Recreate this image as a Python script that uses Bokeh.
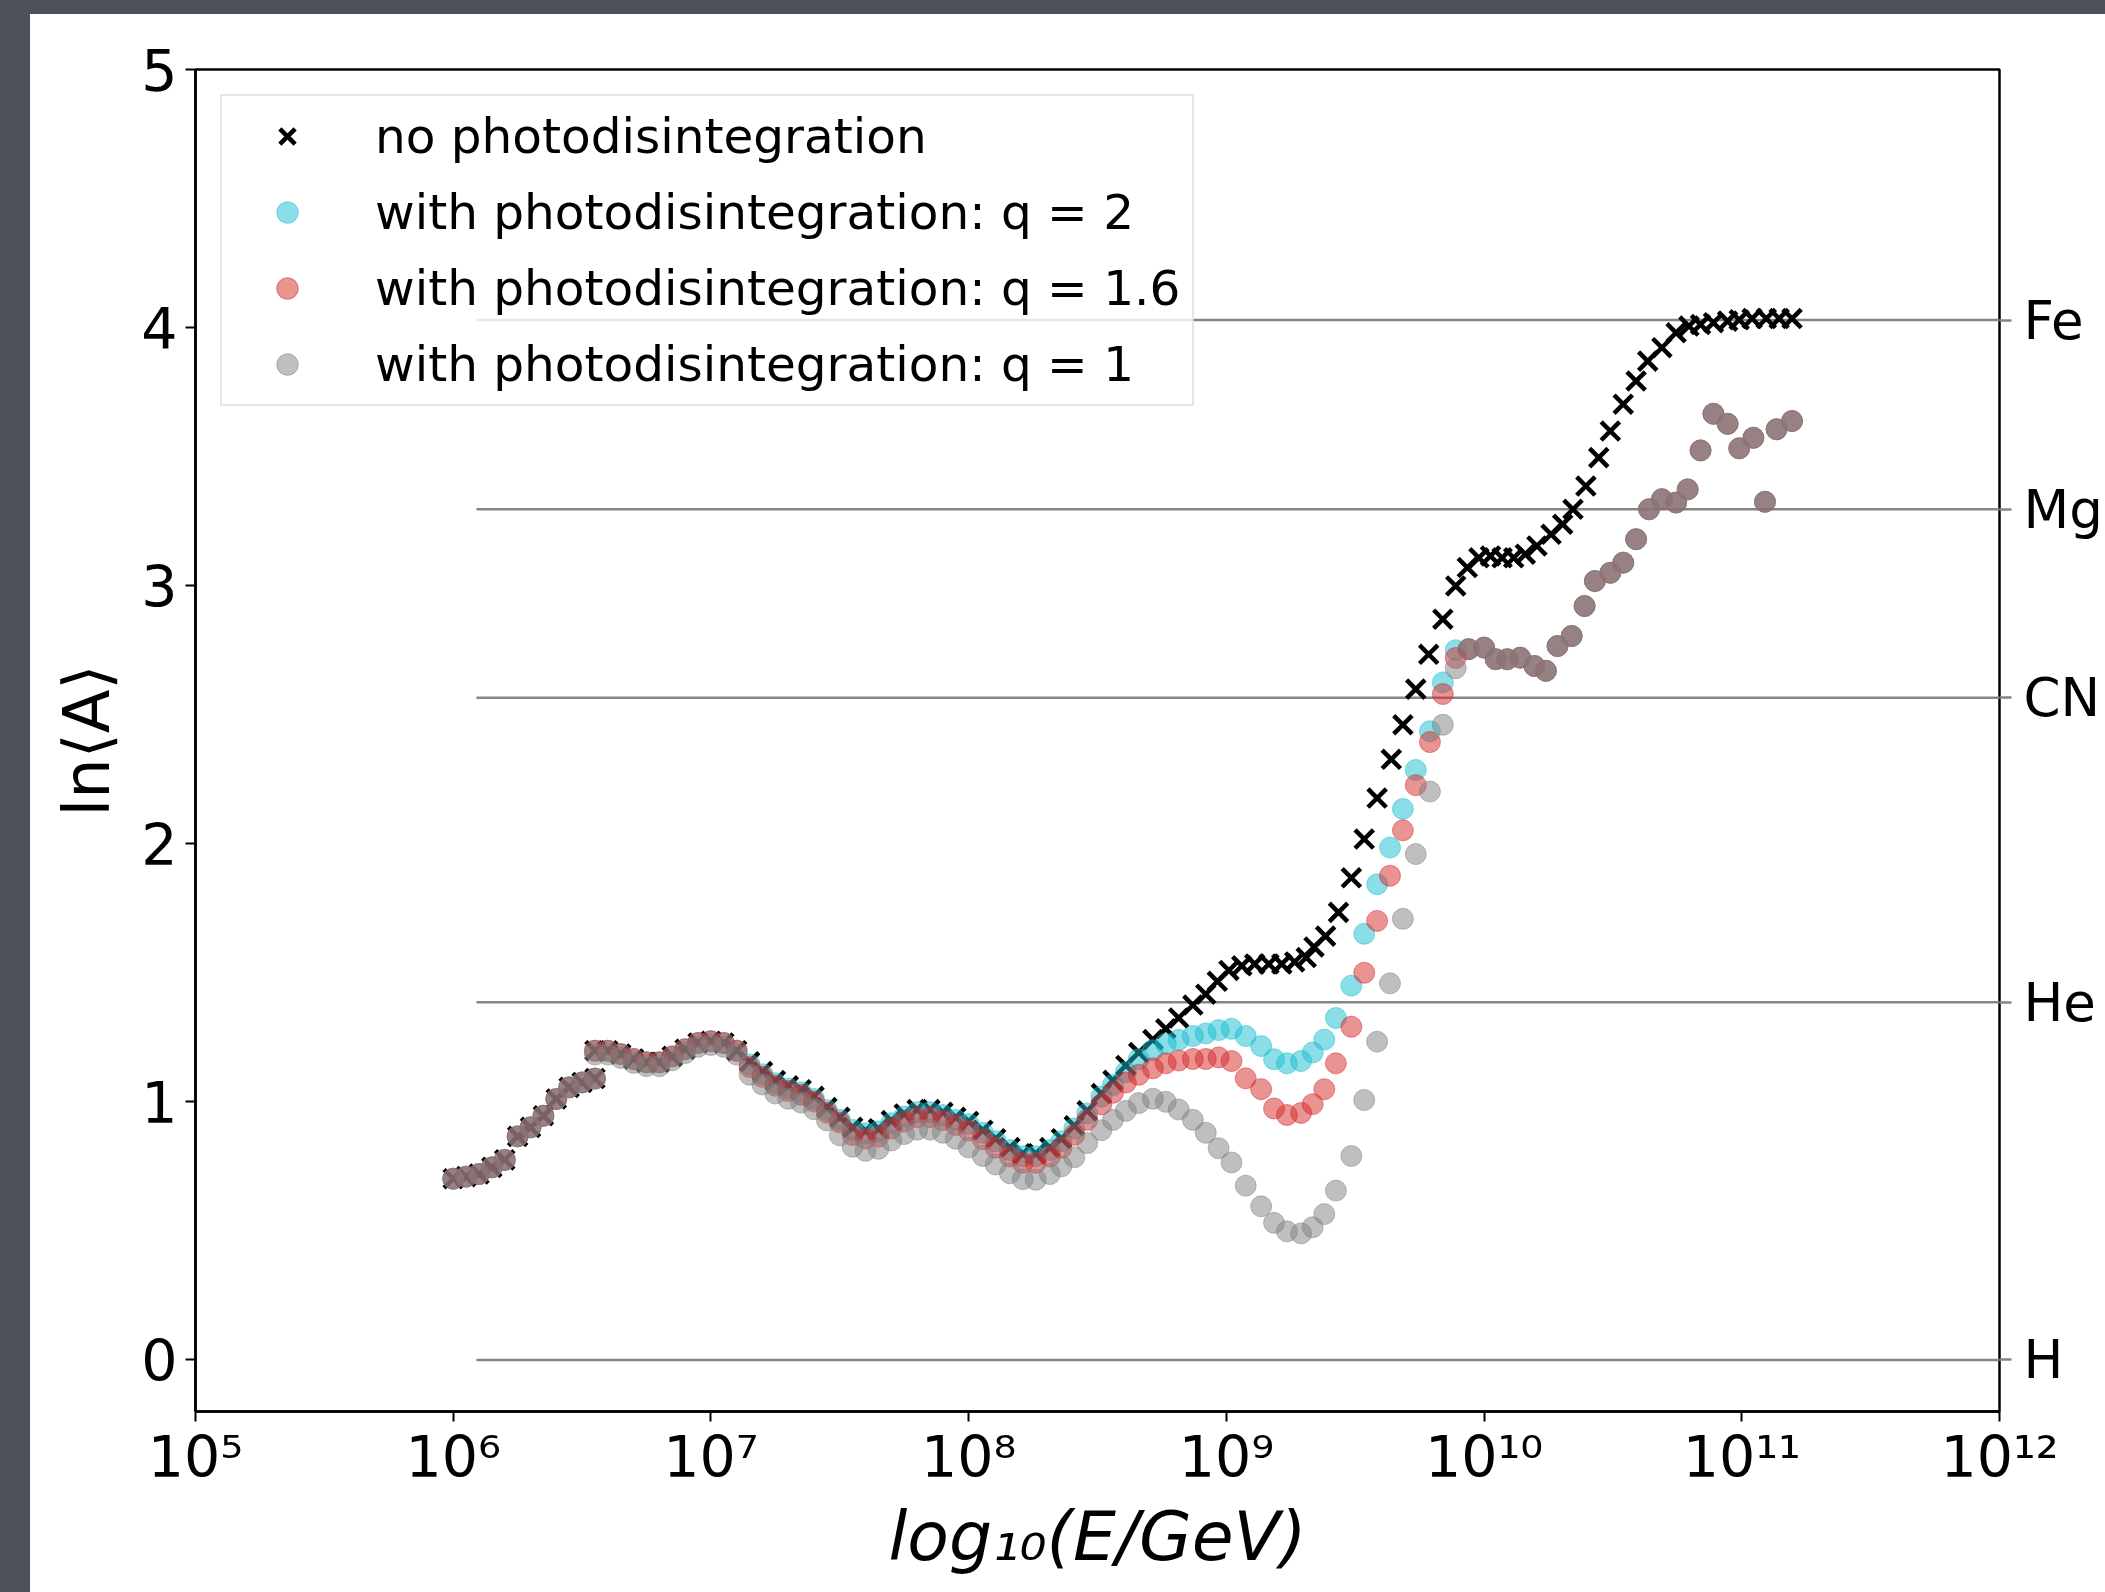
import numpy as np
from bokeh.plotting import figure
from bokeh.models import (LinearAxis, FixedTicker, CustomJSTickFormatter, Legend,
                          LegendItem, Range1d, Spacer)
from bokeh.layouts import column, row
from bokeh.embed import file_html
from bokeh.resources import INLINE

# ---------------- data ----------------
# no photodisintegration (black crosses)
logE_none = [6.00, 6.05, 6.10, 6.15, 6.20, 6.25, 6.30, 6.35, 6.40, 6.45, 6.50, 6.55,
             6.55, 6.60, 6.65, 6.70, 6.75, 6.80, 6.85, 6.90, 6.95, 7.00, 7.05, 7.10,
             7.15, 7.20, 7.25, 7.30, 7.35, 7.40, 7.45, 7.50, 7.55, 7.60, 7.65, 7.70,
             7.75, 7.80, 7.85, 7.90, 7.95,
             8.00, 8.055, 8.105, 8.16, 8.21, 8.26, 8.315, 8.36, 8.41, 8.46, 8.515, 8.56,
             8.61, 8.66, 8.715, 8.765, 8.815, 8.87, 8.92, 8.965, 9.01, 9.06, 9.11, 9.165,
             9.215, 9.265, 9.31, 9.34, 9.385, 9.435, 9.485, 9.535, 9.585, 9.64, 9.685,
             9.735, 9.785, 9.84, 9.89, 9.935, 9.98, 10.025, 10.07, 10.115, 10.16, 10.205,
             10.26, 10.305, 10.345, 10.395, 10.445, 10.49, 10.54, 10.59, 10.635, 10.69,
             10.745, 10.795, 10.84, 10.89, 10.945, 10.99, 11.04, 11.095, 11.145, 11.195]
lnA_none = [0.702, 0.710, 0.720, 0.746, 0.775, 0.866, 0.901, 0.946, 1.011, 1.056, 1.075, 1.09,
            1.198, 1.198, 1.185, 1.166, 1.153, 1.153, 1.176, 1.204, 1.228, 1.235, 1.228, 1.198,
            1.155, 1.117, 1.082, 1.062, 1.047, 1.021, 0.978, 0.940, 0.901, 0.888, 0.895, 0.927,
            0.953, 0.970, 0.970, 0.959, 0.940,
            0.924, 0.890, 0.857, 0.823, 0.799, 0.799, 0.823, 0.857, 0.907, 0.965, 1.032, 1.083,
            1.141, 1.191, 1.241, 1.283, 1.325, 1.375, 1.417, 1.467, 1.509, 1.527, 1.534, 1.534,
            1.534, 1.542, 1.559, 1.600, 1.642, 1.734, 1.868, 2.018, 2.177, 2.327, 2.461,
            2.599, 2.734, 2.870, 2.999, 3.070, 3.108, 3.115, 3.108, 3.108, 3.122, 3.154,
            3.199, 3.238, 3.296, 3.386, 3.496, 3.599, 3.703, 3.793, 3.870, 3.922,
            3.980, 4.006, 4.012, 4.019, 4.025, 4.030, 4.035, 4.035, 4.035, 4.035]

# energies of the photodisintegration runs below 10^9.9 GeV
logE_pd = [6.00, 6.05, 6.10, 6.15, 6.20, 6.25, 6.30, 6.35, 6.40, 6.45, 6.50, 6.55,
           6.55, 6.60, 6.65, 6.70, 6.75, 6.80, 6.85, 6.90, 6.95, 7.00, 7.05, 7.10,
           7.15, 7.20, 7.25, 7.30, 7.35, 7.40, 7.45, 7.50, 7.55, 7.60, 7.65, 7.70,
           7.75, 7.80, 7.85, 7.90, 7.95,
           8.00, 8.055, 8.105, 8.16, 8.21, 8.26, 8.315, 8.36, 8.41, 8.46, 8.515, 8.56,
           8.61, 8.66, 8.715, 8.765, 8.815, 8.87, 8.92, 8.97, 9.02, 9.075, 9.135, 9.185,
           9.235, 9.29, 9.335, 9.38, 9.425, 9.485, 9.535, 9.585, 9.635, 9.685, 9.735,
           9.79, 9.84, 9.89]
lnA_q2 = [0.702, 0.710, 0.720, 0.746, 0.775, 0.866, 0.901, 0.946, 1.011, 1.056, 1.075, 1.09,
          1.198, 1.198, 1.185, 1.166, 1.153, 1.153, 1.176, 1.204, 1.228, 1.235, 1.228, 1.198,
          1.145, 1.107, 1.072, 1.052, 1.037, 1.011, 0.968, 0.930, 0.891, 0.878, 0.885, 0.917,
          0.943, 0.960, 0.960, 0.949, 0.930,
          0.914, 0.880, 0.847, 0.813, 0.789, 0.789, 0.813, 0.847, 0.897, 0.955, 1.02, 1.065,
          1.115, 1.165, 1.20, 1.225, 1.24, 1.255, 1.265, 1.278, 1.283, 1.255, 1.216, 1.165,
          1.149, 1.158, 1.191, 1.241, 1.325, 1.45, 1.651, 1.843, 1.985, 2.135, 2.286,
          2.436, 2.625, 2.75]
lnA_q16 = [0.702, 0.710, 0.720, 0.746, 0.775, 0.866, 0.901, 0.946, 1.011, 1.056, 1.075, 1.09,
           1.198, 1.198, 1.185, 1.166, 1.153, 1.153, 1.176, 1.204, 1.228, 1.235, 1.228, 1.198,
           1.135, 1.097, 1.062, 1.042, 1.027, 1.001, 0.958, 0.920, 0.871, 0.858, 0.865, 0.897,
           0.923, 0.940, 0.940, 0.929, 0.910,
           0.889, 0.855, 0.822, 0.788, 0.764, 0.764, 0.788, 0.822, 0.872, 0.93, 0.99, 1.035,
           1.075, 1.105, 1.13, 1.149, 1.16, 1.166, 1.166, 1.172, 1.158, 1.091, 1.049, 0.974,
           0.949, 0.957, 0.991, 1.049, 1.149, 1.291, 1.50, 1.701, 1.876, 2.052, 2.227,
           2.394, 2.58, 2.72]
lnA_q1 = [0.702, 0.710, 0.720, 0.746, 0.775, 0.866, 0.901, 0.946, 1.011, 1.056, 1.075, 1.09,
          1.183, 1.183, 1.170, 1.151, 1.138, 1.138, 1.161, 1.189, 1.213, 1.220, 1.213, 1.183,
          1.105, 1.067, 1.032, 1.012, 0.997, 0.971, 0.928, 0.870, 0.826, 0.810, 0.818, 0.850,
          0.875, 0.892, 0.892, 0.880, 0.857,
          0.823, 0.79, 0.757, 0.723, 0.70, 0.698, 0.72, 0.75, 0.785, 0.84, 0.89, 0.93,
          0.965, 0.995, 1.012, 1.0, 0.97, 0.93, 0.88, 0.82, 0.765, 0.675, 0.595, 0.531,
          0.498, 0.49, 0.514, 0.565, 0.656, 0.79, 1.007, 1.233, 1.459, 1.709, 1.96,
          2.202, 2.461, 2.68]

# above 10^9.9 GeV the three photodisintegration runs coincide
logE_pd_high = [9.94, 10.0, 10.045, 10.09, 10.14, 10.195, 10.24, 10.285, 10.34, 10.39, 10.43,
                10.49, 10.54, 10.59, 10.64, 10.69, 10.745, 10.79, 10.84, 10.89, 10.945, 10.99,
                11.045, 11.09, 11.135, 11.195]
lnA_pd_high = [2.754, 2.76, 2.715, 2.715, 2.721, 2.689, 2.67, 2.766, 2.805, 2.921, 3.018,
               3.05, 3.089, 3.18, 3.296, 3.335, 3.322, 3.373, 3.524, 3.666, 3.627, 3.532,
               3.573, 3.325, 3.606, 3.638]

# reference nuclei
element_names = ["H", "He", "CN", "Mg", "Fe"]
element_lnA = [0.0, 1.386, 2.566, 3.296, 4.029]
element_line_start_logE = 6.09

# axes
x_tick_exponents = [5, 6, 7, 8, 9, 10, 11, 12]
x_tick_labels = ["10⁵", "10⁶", "10⁷", "10⁸", "10⁹", "10¹⁰", "10¹¹", "10¹²"]
y_ticks = [0, 1, 2, 3, 4, 5]

series_labels = ["no photodisintegration",
                 "with photodisintegration: q = 2",
                 "with photodisintegration: q = 1.6",
                 "with photodisintegration: q = 1"]

# ---------------- figure ----------------
FONT = "DejaVu Sans"
x_lo, x_hi = 10.0 ** x_tick_exponents[0], 10.0 ** x_tick_exponents[-1]

p = figure(width=2075, height=1578, x_axis_type="log",
           x_range=Range1d(x_lo, x_hi), y_range=Range1d(-0.2, 5.0),
           output_backend="svg", toolbar_location=None,
           min_border_left=165, min_border_right=104, min_border_top=55,
           min_border_bottom=181)
p.background_fill_color = "white"
p.border_fill_color = "white"
p.outline_line_color = "black"
p.outline_line_width = 2.5
p.xgrid.visible = False
p.ygrid.visible = False

# reference horizontal lines
n_el = len(element_lnA)
p.segment(x0=[10.0 ** element_line_start_logE] * n_el, x1=[x_hi] * n_el,
          y0=element_lnA, y1=element_lnA, line_color="#858585", line_width=2.5)

def xs(logs):
    return list(10.0 ** np.asarray(logs))

r_none = p.scatter(xs(logE_none), lnA_none, marker="x", size=26, line_width=4.5,
                   line_color="black")

CIRC = 21
pd_x = xs(logE_pd + logE_pd_high)
r_q2 = p.scatter(pd_x, lnA_q2 + lnA_pd_high, marker="circle", size=CIRC,
                 fill_color="#17becf", line_color="#17becf", fill_alpha=0.5, line_alpha=0.5,
                 line_width=1)
r_q16 = p.scatter(pd_x, lnA_q16 + lnA_pd_high, marker="circle", size=CIRC,
                  fill_color="#d62728", line_color="#d62728", fill_alpha=0.5, line_alpha=0.5,
                  line_width=1)
r_q1 = p.scatter(pd_x, lnA_q1 + lnA_pd_high, marker="circle", size=CIRC,
                 fill_color="#7f7f7f", line_color="#7f7f7f", fill_alpha=0.5, line_alpha=0.5,
                 line_width=1)

# x axis
xa = p.xaxis[0]
xa.ticker = FixedTicker(ticks=[10.0 ** e for e in x_tick_exponents], minor_ticks=[])
xa.formatter = CustomJSTickFormatter(args=dict(exps=x_tick_exponents, labels=x_tick_labels),
    code="const e = Math.round(Math.log10(tick)); const i = exps.indexOf(e); return i >= 0 ? labels[i] : '';")
xa.axis_label = "log₁₀(E/GeV)"
xa.axis_label_text_font_style = "italic"

# y axis
ya = p.yaxis[0]
ya.ticker = FixedTicker(ticks=y_ticks, minor_ticks=[])
ya.axis_label = "ln⟨A⟩"
ya.axis_label_text_font_style = "normal"

for ax in (xa, ya):
    ax.axis_line_color = "black"
    ax.axis_line_width = 2.5
    ax.major_tick_line_color = "black"
    ax.major_tick_line_width = 2
    ax.major_tick_out = 10
    ax.major_tick_in = 0
    ax.minor_tick_out = 0
    ax.minor_tick_in = 0
    ax.major_label_text_font = FONT
    ax.major_label_text_font_size = "57px"
    ax.major_label_text_color = "black"
    ax.axis_label_text_font = FONT
    ax.axis_label_text_color = "black"
xa.major_label_standoff = 2
xa.axis_label_standoff = 4
xa.axis_label_text_font_size = "68px"
ya.major_label_standoff = 8
ya.axis_label_standoff = 14
ya.axis_label_text_font_size = "64px"

# right axis with nucleus names
ra = LinearAxis(ticker=FixedTicker(ticks=element_lnA, minor_ticks=[]),
                formatter=CustomJSTickFormatter(args=dict(vals=element_lnA, names=element_names),
    code="for (let i = 0; i < vals.length; i++) { if (Math.abs(vals[i] - tick) < 1e-6) return names[i]; } return '';"))
ra.axis_line_color = None
ra.major_tick_out = 12
ra.major_tick_in = 0
ra.minor_tick_out = 0
ra.minor_tick_in = 0
ra.major_tick_line_color = "#858585"
ra.major_tick_line_width = 2.5
ra.major_label_text_font = FONT
ra.major_label_text_font_size = "53px"
ra.major_label_text_color = "black"
ra.major_label_standoff = 12
p.add_layout(ra, "right")

# legend
legend = Legend(items=[LegendItem(label=series_labels[0], renderers=[r_none]),
                       LegendItem(label=series_labels[1], renderers=[r_q2]),
                       LegendItem(label=series_labels[2], renderers=[r_q16]),
                       LegendItem(label=series_labels[3], renderers=[r_q1])],
                location="top_left")
legend.label_text_font = FONT
legend.label_text_font_size = "48.5px"
legend.label_text_color = "black"
legend.glyph_width = 106
legend.glyph_height = 54
legend.label_height = 54
legend.label_standoff = 35
legend.padding = 12
legend.spacing = 20
legend.margin = 25
legend.border_line_color = "#cccccc"
legend.border_line_width = 2
legend.background_fill_color = "white"
legend.background_fill_alpha = 0.8
p.add_layout(legend)

# slide background strips around the chart
BG = "#4e5159"
top_strip = Spacer(width=2105, height=14, styles={"background-color": BG})
left_strip = Spacer(width=30, height=1578, styles={"background-color": BG})
layout = column(top_strip, row(left_strip, p))

open("out.html", "w").write(file_html(layout, INLINE))
